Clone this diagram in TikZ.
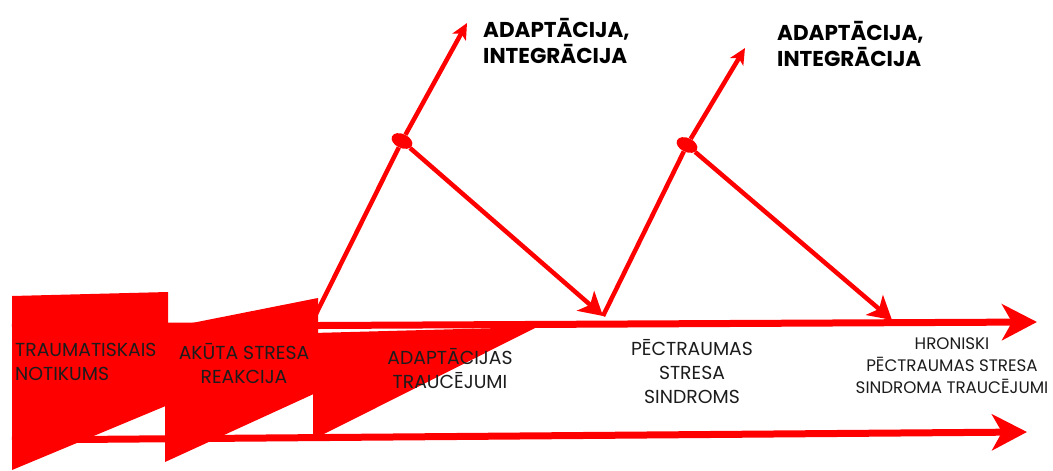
\documentclass[tikz,border=0pt]{standalone}
\usepackage{fontspec}
\setmainfont{Poppins}
\usetikzlibrary{arrows.meta,shapes.geometric}
\definecolor{rd}{RGB}{255,0,0}
\definecolor{tx}{RGB}{28,28,28}
\begin{document}
\begin{tikzpicture}[x=1pt,y=-1pt,
  bigarrow/.style={draw=rd, line width=7pt, -{Stealth[length=35pt,width=36pt,inset=10pt]}},
  thinline/.style={draw=rd, line width=4.5pt},
  uparrow/.style={thinline, -{Stealth[length=16pt,width=15pt,inset=4pt]}},
  downarrow/.style={thinline, -{Stealth[length=23pt,width=26pt,inset=6pt]}},
  knot/.style={ellipse, fill=rd, minimum width=22pt, minimum height=14pt, inner sep=0pt, rotate=-25},
  lbl/.style={text=tx, inner sep=0pt, align=center, font=\fontsize{18.8}{24}\selectfont},
  lblsmall/.style={text=tx, inner sep=0pt, align=center, font=\fontsize{16.7}{22}\selectfont},
  boldlbl/.style={text=black, inner sep=0pt, align=left, anchor=west, font=\bfseries\fontsize{21.5}{26}\selectfont}]
\useasboundingbox (0,0) rectangle (1053,471);
% main arrows
\coordinate (m0) at (12,327);
\coordinate (m1) at (1037,322);
\coordinate (b0) at (12,440);
\coordinate (b1) at (1027,432);
\draw[bigarrow] (m0) -- (m1);
\draw[bigarrow] (b0) -- (b1);
% stage shapes
\fill[rd] (12,296) -- (168,292) -- (168,405) -- (12,470) -- cycle;
\fill[rd] (165,323) -- (192,323) -- (318,298) -- (318,392) -- (165,462) -- cycle;
\fill[rd] (313,333) -- (537,327) -- (320,436) -- (313,436) -- cycle;
% knots and branches
\node[knot] (e1) at (402,141) {};
\node[knot] (e2) at (687,145) {};
\coordinate (s1) at (314,318);
\coordinate (v1) at (603,316);
\coordinate (t1) at (467,23);
\coordinate (t2) at (745,48);
\coordinate (d2) at (892,320);
\draw[thinline] (s1) -- (e1);
\draw[uparrow] (e1) -- (t1);
\draw[downarrow] (e1) -- (v1);
\draw[thinline] (v1) -- (e2);
\draw[uparrow] (e2) -- (t2);
\draw[downarrow] (e2) -- (d2);
% labels
\node[boldlbl] (a1) at (483,41) {ADAPTĀCIJA,\\INTEGRĀCIJA};
\node[boldlbl] (a2) at (777,44) {ADAPTĀCIJA,\\INTEGRĀCIJA};
\node[lbl, align=left, anchor=west] (l1) at (15,362) {TRAUMATISKAIS\\NOTIKUMS};
\node[lbl] (l2) at (244,364) {AKŪTA STRESA\\REAKCIJA};
\node[lbl] (l3) at (450,369) {ADAPTĀCIJAS\\TRAUCĒJUMI};
\node[lbl] (l4) at (692,372) {PĒCTRAUMAS\\STRESA\\SINDROMS};
\node[lblsmall] (l5) at (952,366) {HRONISKI\\PĒCTRAUMAS STRESA\\SINDROMA TRAUCĒJUMI};
\end{tikzpicture}
\end{document}
